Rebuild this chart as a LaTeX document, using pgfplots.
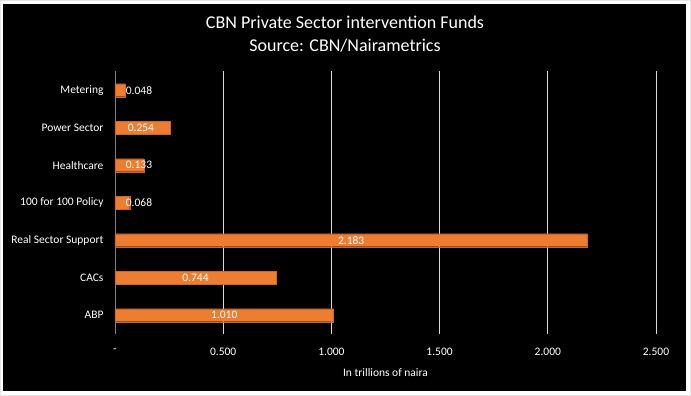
\documentclass[border=0pt]{standalone}
\usepackage{pgfplots}
\pgfplotsset{compat=1.18}
\usepackage{fontspec}
\setmainfont{Carlito}
\definecolor{barorange}{HTML}{ED7D31}
\definecolor{gridc}{HTML}{D9D9D9}
\begin{document}
\begin{tikzpicture}[x=1pt,y=1pt]
\useasboundingbox (-115,-62) rectangle (576,334);
\draw[gray!20, fill=white] (-114.5,-61.5) rectangle (575.5,333.5);
\fill[black] (-112,-57) rectangle (571,330);
\node[white, font=\fontsize{18}{23}\selectfont, align=center] at (230,300)
  {CBN Private Sector intervention Funds\\Source: CBN/Nairametrics};
\begin{axis}[
  at={(0,0)}, anchor=south west,
  scale only axis, width=541pt, height=262.5pt,
  xmin=0, xmax=2.5, ymin=-0.5, ymax=6.5,
  axis lines*=left,
  x axis line style={draw=none},
  y axis line style={draw=gray, line width=0.9pt},
  xtick={0,0.5,1,1.5,2,2.5},
  xticklabels={-,0.500,1.000,1.500,2.000,2.500},
  ytick={0,1,2,3,4,5,6},
  yticklabels={ABP,CACs,Real Sector Support,100 for 100 Policy,Healthcare,Power Sector,Metering},
  major tick length=0pt,
  xmajorgrids, major grid style={gridc, line width=0.8pt},
  ymajorgrids=false,
  tick label style={white, font=\fontsize{11.5}{13}\selectfont},
  /pgf/number format/assume math mode=true,
  xticklabel style={yshift=-11pt},
  yticklabel style={xshift=-8pt},
  xlabel={In trillions of naira},
  xlabel style={white, font=\fontsize{11.5}{13}\selectfont, yshift=-6pt},
  clip=false,
]
\addplot[xbar, bar width=13pt, fill=barorange, draw=barorange!85!black, line width=0.4pt]
  coordinates {(1.010,0) (0.744,1) (2.183,2) (0.068,3) (0.133,4) (0.254,5) (0.048,6)};
\addplot[only marks, mark=none, nodes near coords, point meta=explicit symbolic,
  nodes near coords style={white, font=\fontsize{11.5}{13}\selectfont, anchor=center}]
  table[meta=label] {
x y label
0.505 0 1.010
0.372 1 0.744
1.0915 2 2.183
0.111 3 0.068
0.111 4 0.133
0.12 5 0.254
0.111 6 0.048
};
\end{axis}
\end{tikzpicture}
\end{document}
